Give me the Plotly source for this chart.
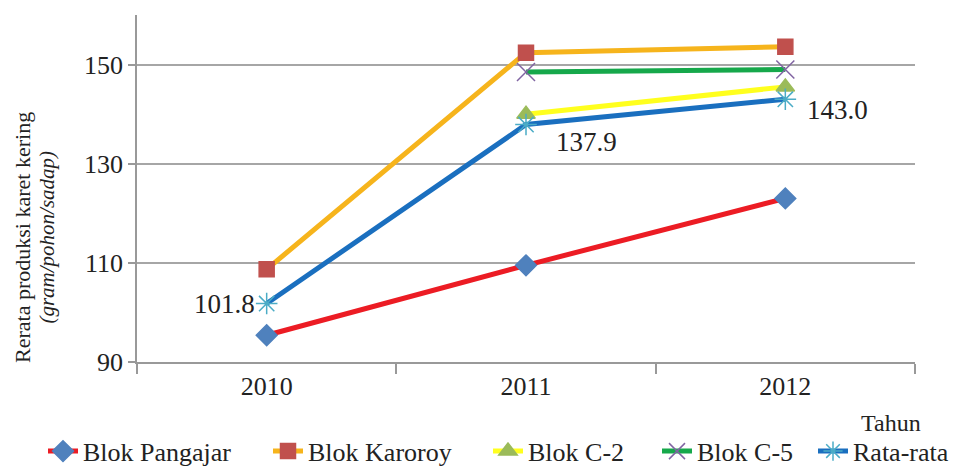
import plotly.graph_objects as go

years = ["2010", "2011", "2012"]
pangajar = [95.4, 109.5, 123.0]
karoroy = [108.7, 152.4, 153.6]
c2 = [None, 140.0, 145.5]
c5 = [None, 148.5, 149.0]
rata = [101.8, 137.9, 143.0]

series = [
    ("Blok Pangajar", pangajar, "#EC1C24", "diamond", "#4F81BD", 16),
    ("Blok Karoroy", karoroy, "#F6B41C", "square", "#C0504D", 15),
    ("Blok C-2", c2, "#FFFF1E", "triangle-up", "#9BBB59", 16),
    ("Blok C-5", c5, "#16A84B", "x-thin-open", "#8064A2", 18),
    ("Rata-rata", rata, "#1A6FBF", "asterisk-open", "#4BACC6", 18),
]

FONT = "Liberation Serif, Times New Roman, serif"
legend_names = ["legend", "legend2", "legend3", "legend4", "legend5"]
legend_x = [43, 268, 488, 657, 813]

fig = go.Figure()
for k, (name, vals, lc, sym, mc, ms) in enumerate(series):
    fig.add_trace(go.Scatter(
        x=years, y=vals, name=name, mode="lines+markers",
        line=dict(color=lc, width=5),
        marker=dict(symbol=sym, color=mc, size=ms, line=dict(color=mc, width=1.5)),
        connectgaps=False, legend=legend_names[k],
    ))

# data labels for Rata-rata (x given as category index)
label_cfg = [
    (0, "right", -10, 0),
    (1, "left", 28, -17),
    (2, "left", 20, -11),
]
for i, xa, xs, ys in label_cfg:
    fig.add_annotation(
        x=i, y=rata[i], text=f"{rata[i]:.1f}", showarrow=False,
        xanchor=xa, yanchor="middle", xshift=xs, yshift=ys,
        font=dict(family=FONT, size=27, color="#222222"),
    )

# y-axis title (two lines)
fig.add_annotation(
    xref="paper", yref="paper", x=-0.148, y=0.36, xanchor="center", yanchor="middle",
    text="Rerata produksi karet kering", textangle=-90, showarrow=False,
    font=dict(family=FONT, size=22, color="#222222"),
)
fig.add_annotation(
    xref="paper", yref="paper", x=-0.115, y=0.36, xanchor="center", yanchor="middle",
    text="<i>(gram/pohon/sadap)</i>", textangle=-90, showarrow=False,
    font=dict(family=FONT, size=21, color="#222222"),
)
# x-axis title
fig.add_annotation(
    xref="paper", yref="paper", x=1.01, y=-0.175, xanchor="right", yanchor="middle",
    text="Tahun", showarrow=False,
    font=dict(family=FONT, size=24, color="#222222"),
)

layout_legends = {}
for name, lx in zip(legend_names, legend_x):
    layout_legends[name] = dict(
        orientation="h", x=lx / 956, y=0.04, xref="container", yref="container",
        xanchor="left", yanchor="middle",
        font=dict(family=FONT, size=26, color="#222222"),
        itemwidth=30, bgcolor="rgba(0,0,0,0)",
    )

fig.update_layout(
    width=956, height=470,
    margin=dict(l=137, r=41, t=15, b=108),
    paper_bgcolor="white", plot_bgcolor="white",
    font=dict(family=FONT, size=26, color="#222222"),
    showlegend=True,
    xaxis=dict(
        type="category", range=[-0.5, 2.5],
        showline=True, linecolor="#999999", linewidth=1.5,
        ticks="outside", tickson="boundaries", ticklen=10, tickcolor="#999999", tickwidth=1.5,
        showgrid=False, tickfont=dict(family=FONT, size=26, color="#222222"),
    ),
    yaxis=dict(
        range=[90, 160], tickvals=[90, 110, 130, 150],
        showline=True, linecolor="#999999", linewidth=1.5,
        ticks="outside", ticklen=7, tickcolor="#999999", tickwidth=1.5,
        showgrid=True, gridcolor="#A6A6A6", gridwidth=1.5,
        zeroline=False, tickfont=dict(family=FONT, size=26, color="#222222"),
    ),
    **layout_legends,
)

fig.write_html("out.html")
